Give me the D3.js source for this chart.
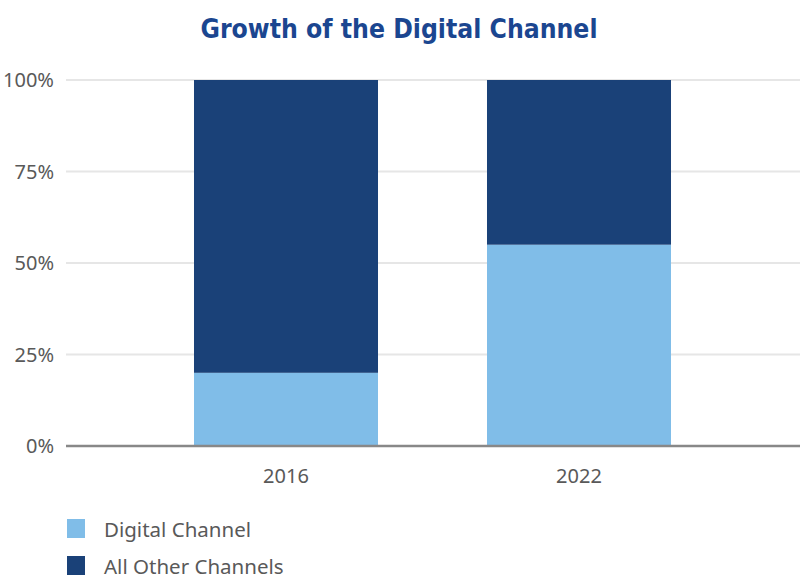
<!DOCTYPE html>
<html><head><meta charset="utf-8">
<script src="https://cdn.jsdelivr.net/npm/d3@7"></script>
<style>body{margin:0;background:#fff}svg{display:block}</style>
</head><body>
<svg id="c" width="800" height="580"></svg>
<script>
const categories = ["2016", "2022"];
const digital = [20, 55];
const other = [80, 45];
const seriesNames = ["Digital Channel", "All Other Channels"];
const yTicks = [0, 25, 50, 75, 100];
const colors = ["#80bde8", "#1a4178"];

const svg = d3.select("#c");
const y = d3.scaleLinear().domain([0, 100]).range([446, 80]);
const x = d3.scaleBand().domain(categories).range([139.5, 725.5]).paddingInner(0.372).paddingOuter(0.186);

svg.append("text").attr("x", 399).attr("y", 38).attr("text-anchor", "middle")
  .attr("font-family", "'DejaVu Sans Condensed', 'Liberation Sans Narrow', sans-serif")
  .attr("font-weight", "bold").attr("font-size", 27).attr("fill", "#1b4690")
  .attr("textLength", 397).attr("lengthAdjust", "spacingAndGlyphs")
  .text("Growth of the Digital Channel");

// gridlines
svg.append("g").selectAll("line").data(yTicks.filter(d => d > 0)).join("line")
  .attr("x1", 66).attr("x2", 800).attr("y1", d => y(d)).attr("y2", d => y(d))
  .attr("stroke", "#e6e6e6").attr("stroke-width", 2);

// y labels
svg.append("g").selectAll("text").data(yTicks).join("text")
  .attr("x", 54).attr("y", d => y(d) + 7).attr("text-anchor", "end")
  .attr("font-family", "'Noto Sans', sans-serif").attr("font-size", 20).attr("fill", "#595959")
  .text(d => d + "%");

const stacked = d3.stack().keys([0, 1]).value((d, k) => k === 0 ? digital[d] : other[d])(categories.map((c, i) => i));
svg.append("g").selectAll("g").data(stacked).join("g").attr("fill", (d, i) => colors[i])
  .selectAll("rect").data(d => d).join("rect")
  .attr("x", d => x(categories[d.data])).attr("width", x.bandwidth())
  .attr("y", d => y(d[1])).attr("height", d => y(d[0]) - y(d[1]));

// baseline
svg.append("line").attr("x1", 66).attr("x2", 800).attr("y1", y(0)).attr("y2", y(0))
  .attr("stroke", "#888").attr("stroke-width", 2.5);

// x labels
svg.append("g").selectAll("text").data(categories).join("text")
  .attr("x", d => x(d) + x.bandwidth() / 2).attr("y", 483).attr("text-anchor", "middle")
  .attr("font-family", "'Noto Sans', sans-serif").attr("font-size", 20).attr("fill", "#595959")
  .text(d => d);

// legend
const lg = svg.append("g").selectAll("g").data(seriesNames).join("g")
  .attr("transform", (d, i) => `translate(67, ${519 + i * 37})`);
lg.append("rect").attr("width", 18).attr("height", 19).attr("fill", (d, i) => colors[i]);
lg.append("text").attr("x", 37).attr("y", 18)
  .attr("font-family", "'Noto Sans', sans-serif").attr("font-size", 20.5).attr("fill", "#595959")
  .text(d => d);
</script>
</body></html>
